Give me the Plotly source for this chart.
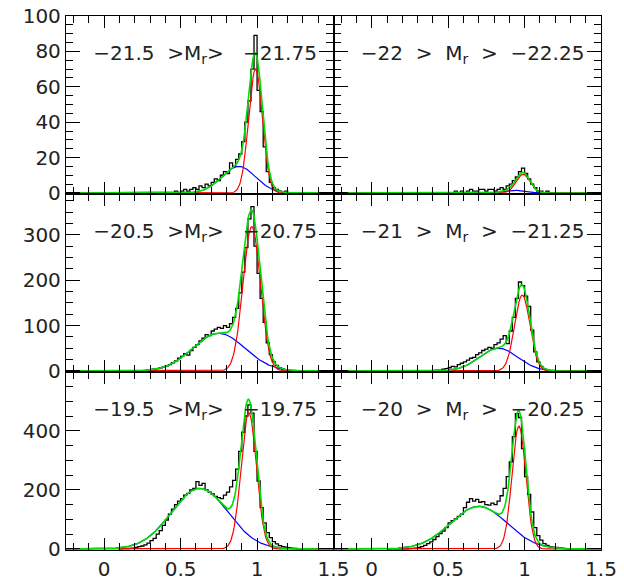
import numpy as np
import plotly.graph_objects as go
from plotly.subplots import make_subplots

# ---------------- data ----------------
# histogram bins: left edge of first bin and bin width (colour g-r)
BIN_START = 0.10
BIN_WIDTH = 0.02

# counts per bin, panels in order: top-left, top-right, mid-left, mid-right, bottom-left, bottom-right
HIST_TL = [0, 0, 0, 0, 0, 0, 0, 0, 0, 0,
           0, 0, 0, 0, 0, 0, 0, 0, 1, 0,
           1, 2, 1, 2, 3, 2, 4, 3, 5, 4,
           6, 8, 7, 10, 12, 11, 17, 15, 19, 22,
           29, 40, 52, 70, 89, 58, 46, 26, 12, 6,
           3, 2, 1, 0, 1, 0, 0, 0, 0, 0]
HIST_TR = [0, 0, 0, 0, 0, 0, 0, 0, 0, 0,
           0, 0, 0, 0, 0, 0, 0, 0, 0, 0,
           0, 0, 1, 0, 1, 0, 1, 2, 1, 1,
           2, 2, 1, 2, 2, 1, 2, 3, 2, 4,
           5, 7, 9, 12, 14, 11, 8, 5, 3, 1,
           1, 0, 1, 0, 0, 0, 0, 0, 0, 0]
HIST_ML = [0, 0, 0, 0, 0, 0, 0, 0, 1, 2,
           3, 4, 5, 7, 9, 11, 14, 18, 22, 28,
           32, 38, 35, 45, 52, 58, 66, 72, 80, 78,
           88, 92, 96, 94, 100, 96, 104, 118, 138, 172,
           218, 272, 335, 362, 275, 215, 160, 107, 62, 36,
           20, 12, 7, 4, 2, 1, 0, 0, 0, 0]
HIST_MR = [0, 0, 0, 0, 0, 0, 0, 0, 0, 0,
           0, 0, 0, 0, 0, 1, 2, 2, 4, 5,
           7, 10, 9, 14, 17, 20, 24, 28, 30, 36,
           40, 45, 48, 52, 50, 58, 62, 70, 78, 60,
           88, 118, 160, 196, 188, 165, 142, 90, 42, 20,
           10, 5, 2, 1, 1, 0, 0, 0, 0, 0]
HIST_BL = [0, 1, 1, 2, 3, 5, 8, 10, 14, 20,
           28, 36, 50, 62, 80, 98, 118, 135, 150, 162,
           170, 182, 188, 200, 205, 228, 215, 222, 200, 192,
           186, 178, 174, 170, 182, 192, 210, 232, 270, 330,
           395, 450, 488, 460, 330, 230, 140, 88, 55, 38,
           25, 17, 11, 8, 6, 4, 3, 2, 1, 1]
HIST_BR = [0, 0, 0, 0, 0, 0, 0, 1, 2, 3,
           5, 8, 12, 18, 24, 32, 42, 52, 60, 72,
           88, 96, 102, 110, 118, 140, 158, 170, 162, 168,
           158, 160, 150, 148, 155, 150, 162, 180, 205, 245,
           295, 380, 458, 445, 340, 245, 185, 125, 72, 45,
           30, 18, 12, 8, 6, 5, 3, 2, 1, 0]

# fitted Gaussian components (amplitude, mean, sigma), same panel order
RED_AMP = [70, 10.5, 318, 167, 461, 416]
RED_MEAN = [0.99, 0.99, 0.965, 0.985, 0.946, 0.963]
RED_SIGMA = [0.045, 0.045, 0.057, 0.05, 0.05, 0.045]
BLUE_AMP = [15, 1.5, 83, 50, 205, 144]
BLUE_MEAN = [0.88, 0.93, 0.75, 0.83, 0.625, 0.70]
BLUE_SIGMA = [0.11, 0.07, 0.17, 0.125, 0.185, 0.185]

PANEL_LABELS = [
    "−21.5  >M<sub>r</sub>>   −21.75",
    "−22  >  M<sub>r</sub>  >  −22.25",
    "−20.5  >M<sub>r</sub>>   −20.75",
    "−21  >  M<sub>r</sub>  >  −21.25",
    "−19.5  >M<sub>r</sub>>   −19.75",
    "−20  >  M<sub>r</sub>  >  −20.25",
]

X_RANGE = [-0.25, 1.5]
Y_MAX = [100, 100, 390, 390, 599, 599]
Y_DTICK = [20, 20, 100, 100, 200, 200]
Y_MINOR = [5, 5, 25, 25, 50, 50]

HISTS = [HIST_TL, HIST_TR, HIST_ML, HIST_MR, HIST_BL, HIST_BR]

# ---------------- figure ----------------
FONT = dict(family="DejaVu Sans", size=20, color="#222222")
LABEL_X = 0.66      # label centre, data units
LABEL_FRAC = 0.78   # label centre, fraction of panel height

fig = make_subplots(rows=3, cols=2, horizontal_spacing=0, vertical_spacing=0)
xg = np.linspace(X_RANGE[0], X_RANGE[1], 351)

for k in range(6):
    r, c = k // 2 + 1, k % 2 + 1
    pad = Y_MAX[k] * 0.006
    ybot, ytop = -pad, Y_MAX[k]

    counts = HISTS[k]
    edges = BIN_START + BIN_WIDTH * np.arange(len(counts) + 1)
    fig.add_trace(go.Scatter(x=edges.tolist(), y=list(counts) + [counts[-1]], mode="lines",
                             line=dict(color="black", width=1.3, shape="hv")), row=r, col=c)
    blue = BLUE_AMP[k] * np.exp(-0.5 * ((xg - BLUE_MEAN[k]) / BLUE_SIGMA[k]) ** 2)
    red = RED_AMP[k] * np.exp(-0.5 * ((xg - RED_MEAN[k]) / RED_SIGMA[k]) ** 2)
    fig.add_trace(go.Scatter(x=xg.tolist(), y=blue.tolist(), mode="lines",
                             line=dict(color="#0000ff", width=1.2)), row=r, col=c)
    fig.add_trace(go.Scatter(x=xg.tolist(), y=red.tolist(), mode="lines",
                             line=dict(color="#ff0000", width=1.2)), row=r, col=c)
    fig.add_trace(go.Scatter(x=xg.tolist(), y=(red + blue).tolist(), mode="lines",
                             line=dict(color="#00dd00", width=1.6)), row=r, col=c)

    # panel label as a text trace
    fig.add_trace(go.Scatter(x=[LABEL_X], y=[ybot + LABEL_FRAC * (ytop - ybot)], mode="text",
                             text=[PANEL_LABELS[k]], textposition="middle center",
                             textfont=FONT, cliponaxis=False, hoverinfo="skip"),
                  row=r, col=c)

    fig.update_xaxes(range=X_RANGE, tick0=0, dtick=0.5, ticks="inside", ticklen=12, tickwidth=1.2,
                     tickcolor="black", showline=True, linecolor="black", linewidth=1.3,
                     mirror="ticks", showgrid=False, zeroline=False, automargin=False,
                     minor=dict(ticks="inside", tick0=0, dtick=0.1, ticklen=7, tickwidth=1.1,
                                tickcolor="black", showgrid=False),
                     showticklabels=(r == 3), tickfont=FONT, ticklabelstandoff=1,
                     row=r, col=c)
    fig.update_yaxes(range=[ybot, ytop], tick0=0, dtick=Y_DTICK[k], ticks="inside", ticklen=14,
                     tickwidth=1.2, tickcolor="black", showline=True, linecolor="black",
                     linewidth=1.3, mirror="ticks", showgrid=False, zeroline=False,
                     automargin=False,
                     minor=dict(ticks="inside", tick0=0, dtick=Y_MINOR[k], ticklen=7,
                                tickwidth=1.1, tickcolor="black", showgrid=False),
                     showticklabels=(c == 1), tickfont=FONT, ticklabelstandoff=0,
                     row=r, col=c)

fig.update_layout(width=624, height=580, margin=dict(l=66, r=23, t=16, b=30),
                  plot_bgcolor="white", paper_bgcolor="white", showlegend=False)

fig.write_html("out.html")
